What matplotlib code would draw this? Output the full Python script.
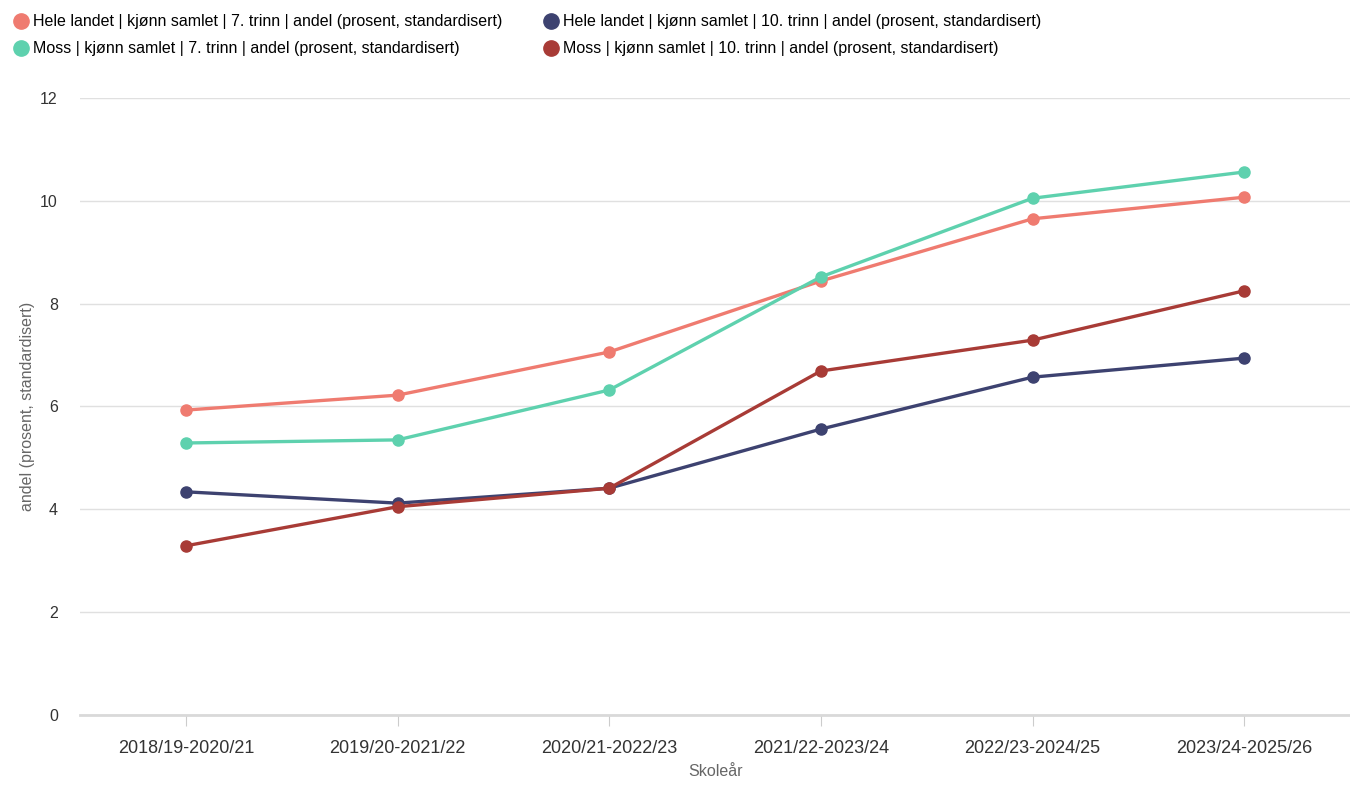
import matplotlib.pyplot as plt

plt.rcParams['font.family'] = ['Liberation Sans', 'DejaVu Sans']

skoleaar = ['2018/19-2020/21', '2019/20-2021/22', '2020/21-2022/23',
            '2021/22-2023/24', '2022/23-2024/25', '2023/24-2025/26']

hele_7 = [5.93, 6.22, 7.06, 8.44, 9.65, 10.07]
moss_7 = [5.29, 5.35, 6.32, 8.52, 10.05, 10.56]
hele_10 = [4.34, 4.12, 4.41, 5.56, 6.57, 6.94]
moss_10 = [3.29, 4.05, 4.41, 6.69, 7.29, 8.25]

series = [
    ('Hele landet | kjønn samlet | 7. trinn | andel (prosent, standardisert)', hele_7, '#ef7b70'),
    ('Moss | kjønn samlet | 7. trinn | andel (prosent, standardisert)', moss_7, '#5ed1ae'),
    ('Hele landet | kjønn samlet | 10. trinn | andel (prosent, standardisert)', hele_10, '#3d4270'),
    ('Moss | kjønn samlet | 10. trinn | andel (prosent, standardisert)', moss_10, '#a83b36'),
]

fig = plt.figure(figsize=(13.5, 7.85), dpi=100)
ax = fig.add_axes([0.0593, 0.0892, 0.9407, 0.786])

x = list(range(len(skoleaar)))
handles = []
for label, vals, color in series:
    h, = ax.plot(x, vals, color=color, lw=2.4, marker='o', ms=8,
                 label=label, zorder=3)
    handles.append(h)

ax.set_xlim(-0.5, 5.5)
ax.set_ylim(0, 12)
ax.set_yticks(range(0, 13, 2))
ax.set_xticks(x)
ax.set_xticklabels(skoleaar, fontsize=13, color='#333333')
ax.tick_params(axis='y', length=0, pad=16, labelsize=11.5, labelcolor='#333333')
ax.tick_params(axis='x', length=8, color='#cccccc', pad=10)
ax.grid(axis='y', color='#e0e0e0', lw=1)
ax.set_axisbelow(True)
for s in ['top', 'right', 'left']:
    ax.spines[s].set_visible(False)
ax.spines['bottom'].set_color('#d9d9d9')
ax.spines['bottom'].set_linewidth(2)

ax.set_xlabel('Skoleår', fontsize=11.5, color='#666666', labelpad=5)
ax.set_ylabel('andel (prosent, standardisert)', fontsize=11.5, color='#666666', labelpad=4)

leg = fig.legend(handles=handles, loc='upper left', bbox_to_anchor=(0.001, 1.0),
                 ncol=2, frameon=False, fontsize=11.5, handlelength=0.6,
                 handletextpad=0.5, columnspacing=2.7, labelspacing=0.75)
for lh in leg.legend_handles:
    lh.set_linestyle('')
    lh.set_markersize(11)

fig.savefig('out.png')
